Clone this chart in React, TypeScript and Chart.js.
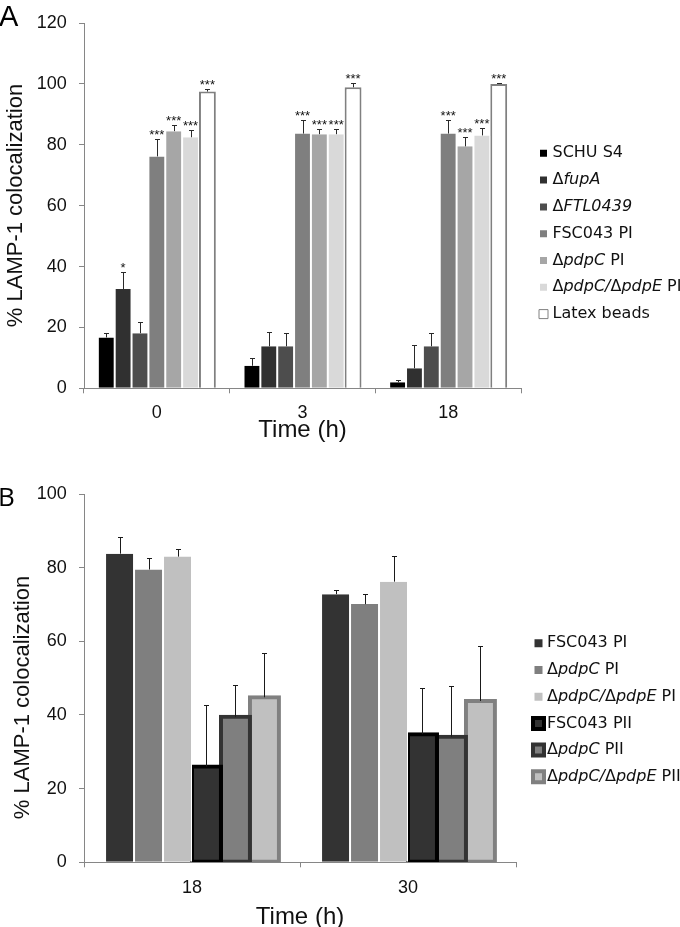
import React, { useEffect, useRef } from 'react';
import { Chart, registerables } from 'chart.js';

Chart.register(...registerables);

// ---------------- Panel A data ----------------
const timesA = ['0', '3', '18'];
const strainsA = ['SCHU S4', 'ΔfupA', 'ΔFTL0439', 'FSC043 PI', 'ΔpdpC PI', 'ΔpdpC/ΔpdpE PI', 'Latex beads'];
const yTicksA = [0, 20, 40, 60, 80, 100, 120];

const schuS4A = [16.7, 7.4, 2.0];
const fupAA = [32.6, 13.8, 6.6];
const ftl0439A = [18.1, 13.8, 13.8];
const fsc043PIA = [76.2, 83.7, 83.7];
const pdpCPIA = [84.5, 83.5, 79.5];
const pdpCEPIA = [82.5, 83.5, 83.1];
const latexA = [97.5, 98.9, 100.0];

const schuS4ErrA = [1.6, 2.6, 0.7];
const fupAErrA = [5.7, 4.6, 7.6];
const ftl0439ErrA = [3.6, 4.5, 4.5];
const fsc043PIErrA = [5.8, 4.6, 4.6];
const pdpCPIErrA = [2.0, 1.7, 3.2];
const pdpCEPIErrA = [2.4, 1.7, 2.3];
const latexErrA = [0.9, 1.4, 0.4];

const schuS4SigA = ['', '', ''];
const fupASigA = ['*', '', ''];
const ftl0439SigA = ['', '', ''];
const fsc043PISigA = ['***', '***', '***'];
const pdpCPISigA = ['***', '***', '***'];
const pdpCEPISigA = ['***', '***', '***'];
const latexSigA = ['***', '***', '***'];

// ---------------- Panel B data ----------------
const timesB = ['18', '30'];
const strainsB = ['FSC043 PI', 'ΔpdpC PI', 'ΔpdpC/ΔpdpE PI', 'FSC043 PII', 'ΔpdpC PII', 'ΔpdpC/ΔpdpE PII'];
const yTicksB = [0, 20, 40, 60, 80, 100];

const fsc043PIB = [83.8, 72.8];
const pdpCPIB = [79.5, 70.1];
const pdpCEPIB = [83.0, 76.2];
const fsc043PIIB = [26.0, 34.8];
const pdpCPIIB = [39.5, 34.1];
const pdpCEPIIB = [44.8, 43.8];

const fsc043PIErrB = [4.6, 1.1];
const pdpCPIErrB = [3.0, 2.7];
const pdpCEPIErrB = [2.2, 7.1];
const fsc043PIIErrB = [16.8, 12.5];
const pdpCPIIErrB = [8.7, 13.8];
const pdpCEPIIErrB = [11.9, 14.9];

// ---------------- styles ----------------
const AXIS = '#868686';
const TICK_FONT = "'Liberation Sans', Arial, sans-serif";
const LEGEND_FONT = "'DejaVu Sans', sans-serif";

const fillA = ['#000000', '#303030', '#4d4d4d', '#7f7f7f', '#a6a6a6', '#d9d9d9', '#ffffff'];
const edgeA = ['#ffffff', '#ffffff', '#ffffff', '#ffffff', '#ffffff', '#ffffff', '#808080'];
const legendStrokeA = ['#ffffff', '#ffffff', '#ffffff', '#ffffff', '#ffffff', '#ffffff', '#808080'];
const legendLineA = [2, 2, 2, 2, 2, 2, 1];

const fillB = ['#333333', '#7f7f7f', '#c0c0c0', '#333333', '#7f7f7f', '#c0c0c0'];
const edgeB = ['#ffffff', '#ffffff', '#ffffff', '#000000', '#333333', '#808080'];
const legendLineB = [3, 3, 3, 4, 4, 4];

const ITALIC_SPLIT = /(fupA|FTL0439|pdpC\/|pdpC|pdpE)/;
const ITALIC_FULL = /^(fupA|FTL0439|pdpC\/|pdpC|pdpE)$/;

function drawRich(ctx: CanvasRenderingContext2D, text: string, x: number, y: number, size: number) {
  const parts = text.split(ITALIC_SPLIT).filter((p) => p.length > 0);
  let cx = x;
  for (const p of parts) {
    const it = ITALIC_FULL.test(p);
    ctx.font = `${it ? 'italic ' : ''}${size}px ${LEGEND_FONT}`;
    ctx.fillText(p, cx, y);
    cx += ctx.measureText(p).width;
  }
}

type FigCfg = {
  errors: number[][];
  stars: string[][];
  errColor: string;
  labels: string[];
  legendBoxX: number;
  legendFirstY: number;
  legendWidth: number;
  legendTextDX: number;
  legendFont: number;
  yTitle: string;
  yTitleX: number;
  yTitleY: number;
  panel: string;
  panelFont: string;
  panelX: number;
  panelY: number;
};

function figurePlugin(cfg: FigCfg) {
  return {
    id: 'figure',
    beforeLayout(chart: any) {
      const lg = chart.legend;
      if (lg && !lg.__wrapped) {
        const orig = lg.fit.bind(lg);
        lg.fit = function () {
          orig();
          lg.width = cfg.legendWidth;
        };
        lg.__wrapped = true;
      }
    },
    afterLayout(chart: any) {
      const lg = chart.legend;
      if (!lg) return;
      const pad = lg.options.labels.padding;
      const itemH = Math.max(cfg.legendFont, lg.options.labels.boxHeight);
      const h = lg.height;
      lg.left = cfg.legendBoxX - pad;
      lg.right = lg.left + lg.width;
      lg.top = cfg.legendFirstY - itemH / 2 - pad;
      lg.bottom = lg.top + h;
    },
    afterDatasetsDraw(chart: any) {
      const ctx: CanvasRenderingContext2D = chart.ctx;
      const yS = chart.scales.y;
      ctx.save();
      chart.data.datasets.forEach((ds: any, i: number) => {
        const meta = chart.getDatasetMeta(i);
        meta.data.forEach((bar: any, j: number) => {
          const v = ds.data[j];
          const e = cfg.errors[i][j];
          const x = Math.round(bar.x) + 0.5;
          const yTop = yS.getPixelForValue(v);
          const yErr = Math.round(yS.getPixelForValue(v + e)) + 0.5;
          ctx.strokeStyle = cfg.errColor;
          ctx.lineWidth = 1;
          ctx.beginPath();
          ctx.moveTo(x, yTop);
          ctx.lineTo(x, yErr);
          ctx.moveTo(x - 2.5, yErr);
          ctx.lineTo(x + 2.5, yErr);
          ctx.stroke();
          const s = cfg.stars[i][j];
          if (s) {
            ctx.fillStyle = '#111';
            ctx.font = `13px ${TICK_FONT}`;
            ctx.textAlign = 'center';
            ctx.textBaseline = 'alphabetic';
            ctx.fillText(s, bar.x, yErr - 0.5);
          }
        });
      });
      ctx.restore();
    },
    afterDraw(chart: any) {
      const ctx: CanvasRenderingContext2D = chart.ctx;
      ctx.save();
      // legend labels with italic gene names
      const lg = chart.legend;
      if (lg && lg.legendHitBoxes) {
        const itemH = Math.max(cfg.legendFont, lg.options.labels.boxHeight);
        ctx.fillStyle = '#111';
        ctx.textAlign = 'left';
        ctx.textBaseline = 'middle';
        lg.legendHitBoxes.forEach((hb: any, i: number) => {
          drawRich(ctx, cfg.labels[i], hb.left + cfg.legendTextDX, hb.top + itemH / 2, cfg.legendFont);
        });
      }
      // y-axis title
      ctx.save();
      ctx.translate(cfg.yTitleX, cfg.yTitleY);
      ctx.rotate(-Math.PI / 2);
      ctx.font = `22px ${TICK_FONT}`;
      ctx.fillStyle = '#111';
      ctx.textAlign = 'center';
      ctx.textBaseline = 'middle';
      ctx.fillText(cfg.yTitle, 0, 0);
      ctx.restore();
      // panel letter
      ctx.font = cfg.panelFont;
      ctx.fillStyle = '#000';
      ctx.textAlign = 'left';
      ctx.textBaseline = 'alphabetic';
      ctx.fillText(cfg.panel, cfg.panelX, cfg.panelY);
      ctx.restore();
    },
  };
}

function axisX(height: number, tickPad: number, titleLineHeight: number) {
  return {
    grid: { offset: true, drawOnChartArea: false, drawTicks: true, tickLength: 5, color: AXIS },
    border: { display: true, color: AXIS, width: 1, z: 1 },
    ticks: { color: '#111', padding: tickPad, font: { family: TICK_FONT, size: 18 } },
    title: {
      display: true,
      text: 'Time (h)',
      color: '#111',
      font: { family: TICK_FONT, size: 24, lineHeight: titleLineHeight },
      padding: { top: 0, bottom: 0 },
    },
    afterFit: (s: any) => {
      s.height = height;
    },
  };
}

function axisY(ticks: number[]) {
  return {
    min: ticks[0],
    max: ticks[ticks.length - 1],
    grid: { drawOnChartArea: false, drawTicks: true, tickLength: 5, color: AXIS },
    border: { display: true, color: AXIS, width: 1 },
    ticks: { stepSize: ticks[1] - ticks[0], color: '#111', padding: 12.3, font: { family: TICK_FONT, size: 18 } },
    afterFit: (s: any) => {
      s.width = 84;
    },
  };
}

export default function App() {
  const refA = useRef<HTMLCanvasElement>(null);
  const refB = useRef<HTMLCanvasElement>(null);

  useEffect(() => {
    const valuesA = [schuS4A, fupAA, ftl0439A, fsc043PIA, pdpCPIA, pdpCEPIA, latexA];
    const errorsA = [schuS4ErrA, fupAErrA, ftl0439ErrA, fsc043PIErrA, pdpCPIErrA, pdpCEPIErrA, latexErrA];
    const starsA = [schuS4SigA, fupASigA, ftl0439SigA, fsc043PISigA, pdpCPISigA, pdpCEPISigA, latexSigA];
    const valuesB = [fsc043PIB, pdpCPIB, pdpCEPIB, fsc043PIIB, pdpCPIIB, pdpCEPIIB];
    const errorsB = [fsc043PIErrB, pdpCPIErrB, pdpCEPIErrB, fsc043PIIErrB, pdpCPIIErrB, pdpCEPIIErrB];
    const starsB = valuesB.map((d) => d.map(() => ''));

    const chartA = new Chart(refA.current as HTMLCanvasElement, {
      type: 'bar',
      data: {
        labels: timesA,
        datasets: valuesA.map((d, i) => ({
          label: strainsA[i],
          data: d,
          backgroundColor: fillA[i],
          borderColor: edgeA[i],
          borderWidth: i === 6 ? { left: 2, right: 2, top: 2, bottom: 0 } : { left: 1, right: 1, top: 0, bottom: 0 },
          borderSkipped: 'start',
        })),
      },
      options: {
        responsive: false,
        animation: false,
        events: [],
        layout: { padding: { top: 20, right: 0, bottom: 0, left: 0 } },
        datasets: { bar: { categoryPercentage: 0.81, barPercentage: 1 } },
        scales: {
          x: axisX(445 - 388.3, 9.2, 1.2),
          y: axisY(yTicksA),
        } as any,
        plugins: {
          legend: {
            position: 'right',
            align: 'start',
            labels: {
              boxWidth: 9,
              boxHeight: 9,
              padding: 10.8,
              font: { family: LEGEND_FONT, size: 16 },
              generateLabels: () =>
                strainsA.map((_, i) => ({
                  text: '',
                  fillStyle: fillA[i],
                  strokeStyle: legendStrokeA[i],
                  lineWidth: legendLineA[i],
                  hidden: false,
                  datasetIndex: i,
                })),
            },
          },
          tooltip: { enabled: false },
        } as any,
      },
      plugins: [
        figurePlugin({
          errors: errorsA,
          stars: starsA,
          errColor: '#2a2a2a',
          labels: strainsA,
          legendBoxX: 539,
          legendFirstY: 153.3,
          legendWidth: 680 - 521,
          legendTextDX: 13.5,
          legendFont: 16,
          yTitle: '% LAMP-1 colocalization',
          yTitleX: 16,
          yTitleY: 205.5,
          panel: 'A',
          panelFont: `29px ${TICK_FONT}`,
          panelX: -1,
          panelY: 26,
        }),
      ] as any,
    });

    const chartB = new Chart(refB.current as HTMLCanvasElement, {
      type: 'bar',
      data: {
        labels: timesB,
        datasets: valuesB.map((d, i) => {
          const pii = i >= 3;
          return {
            label: strainsB[i],
            data: d,
            backgroundColor: fillB[i],
            borderColor: edgeB[i],
            borderWidth: pii ? 4 : { left: 1, right: 1, top: 0, bottom: 0 },
            borderSkipped: pii ? false : 'start',
            inflateAmount: pii ? 2 : 'auto',
          };
        }),
      },
      options: {
        responsive: false,
        animation: false,
        events: [],
        layout: { padding: { top: 39, right: 0, bottom: 0, left: 0 } },
        datasets: { bar: { categoryPercentage: 0.805, barPercentage: 1 } },
        scales: {
          x: axisX(472 - 407.3, 10.2, 0.8),
          y: axisY(yTicksB),
        } as any,
        plugins: {
          legend: {
            position: 'right',
            align: 'start',
            labels: {
              boxWidth: 11,
              boxHeight: 11,
              padding: 10.7,
              font: { family: LEGEND_FONT, size: 16 },
              generateLabels: () =>
                strainsB.map((_, i) => ({
                  text: '',
                  fillStyle: fillB[i],
                  strokeStyle: i >= 3 ? edgeB[i] : '#ffffff',
                  lineWidth: legendLineB[i],
                  hidden: false,
                  datasetIndex: i,
                })),
            },
          },
          tooltip: { enabled: false },
        } as any,
      },
      plugins: [
        figurePlugin({
          errors: errorsB,
          stars: starsB,
          errColor: '#1a1a1a',
          labels: strainsB,
          legendBoxX: 533,
          legendFirstY: 643.3 - 455,
          legendWidth: 680 - 516,
          legendTextDX: 14,
          legendFont: 16,
          yTitle: '% LAMP-1 colocalization',
          yTitleX: 22.5,
          yTitleY: 697.5 - 455,
          panel: 'B',
          panelFont: `26px 'Open Sans', sans-serif`,
          panelX: -2,
          panelY: 51,
        }),
      ] as any,
    });

    return () => {
      chartA.destroy();
      chartB.destroy();
    };
  }, []);

  return (
    <div style={{ position: 'absolute', left: 0, top: 0, width: 680, height: 927, background: '#ffffff' }}>
      <canvas ref={refA} width={680} height={445} style={{ position: 'absolute', left: 0, top: 0 }} />
      <canvas ref={refB} width={680} height={472} style={{ position: 'absolute', left: 0, top: 455 }} />
    </div>
  );
}
